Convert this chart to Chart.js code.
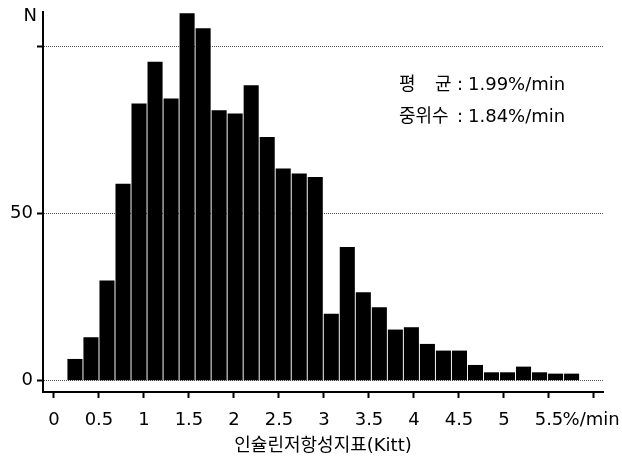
<!DOCTYPE html>
<html>
<head>
<meta charset="utf-8">
<script src="https://cdn.jsdelivr.net/npm/chart.js@4"></script>
<style>
  html, body { margin: 0; padding: 0; background: #fff; }
  #wrap { width: 622px; height: 459px; }
</style>
</head>
<body>
<div id="wrap"><canvas id="myChart" width="622" height="459"></canvas></div>
<script>
// histogram bins (centre of each bar, %/min) and counts
const binCenters = [0.233, 0.411, 0.589, 0.767, 0.945, 1.123, 1.301, 1.479, 1.657, 1.835,
  2.013, 2.191, 2.369, 2.547, 2.725, 2.903, 3.081, 3.259, 3.437, 3.615,
  3.793, 3.971, 4.149, 4.327, 4.505, 4.683, 4.861, 5.039, 5.217, 5.395, 5.573, 5.751];
const counts = [6.5, 13, 30, 59, 83, 95.5, 84.5, 110, 105.5, 81,
  80, 88.5, 73, 63.5, 62, 61, 20, 40, 26.5, 22,
  15.3, 16, 11, 9, 9, 4.7, 2.5, 2.5, 4.2, 2.5, 2.1, 2.1];
const xTicks = [0, 0.5, 1, 1.5, 2, 2.5, 3, 3.5, 4, 4.5, 5, 5.5, 6];
const yTicks = [0, 50, 100];
const xUnitLabel = '%/min ';
const xTitle = '인슐린저항성지표(Kitt)';
const yTitle = 'N';
const statLabels = ['평', '균'];
const stats = [['평 균', '1.99%/min'], ['중위수', '1.84%/min']];

const FONT = 'DejaVu Sans, "Noto Sans CJK KR", sans-serif';

const textPlugin = {
  id: 'texts',
  afterDraw(chart) {
    const ctx = chart.ctx;
    const area = chart.chartArea;
    ctx.save();
    ctx.fillStyle = '#000';
    ctx.font = '18px ' + FONT;
    ctx.textBaseline = 'alphabetic';
    // "N" at the top of the y axis
    ctx.textAlign = 'right';
    ctx.fillText(yTitle, area.left - 6, area.top + 9);
    // mean / median box
    ctx.textAlign = 'left';
    ctx.fillText(statLabels[0], 399, 90);
    ctx.fillText(statLabels[1], 435, 90);
    ctx.fillText(':', 457, 90);
    ctx.fillText(stats[0][1], 468, 90);
    ctx.fillText(stats[1][0], 399, 122);
    ctx.fillText(':', 457, 122);
    ctx.fillText(stats[1][1], 468, 122);
    ctx.restore();
  }
};

const ctx = document.getElementById('myChart').getContext('2d');
const myChart = new Chart(ctx, {
  type: 'bar',
  data: {
    datasets: [{
      data: binCenters.map((x, i) => ({x: x, y: counts[i]})),
      backgroundColor: '#000',
      borderWidth: 0,
      barPercentage: 0.94,
      categoryPercentage: 1
    }]
  },
  options: {
    responsive: false,
    animation: false,
    layout: { padding: { left: 10, top: 12, right: 0, bottom: 0 } },
    plugins: { legend: { display: false }, tooltip: { enabled: false } },
    scales: {
      x: {
        type: 'linear',
        offset: false,
        min: -0.122,
        max: 6.1,
        afterBuildTicks: (scale) => { scale.ticks = xTicks.map(v => ({value: v})); },
        afterFit: (scale) => { scale.height = 67; scale.paddingRight = 19; scale.paddingLeft = 0; },
        ticks: {
          autoSkip: false,
          maxRotation: 0,
          padding: 12,
          color: '#000',
          font: { family: FONT, size: 18, lineHeight: 1.1 },
          callback: (v) => v === 6 ? xUnitLabel : String(v)
        },
        grid: { offset: false, drawOnChartArea: false, tickLength: 6, tickWidth: 2, tickColor: '#000' },
        border: { color: '#000', width: 2 },
        title: {
          display: true,
          text: xTitle,
          color: '#000',
          font: { family: FONT, size: 18 },
          padding: { top: 0, bottom: 2 }
        }
      },
      y: {
        min: -3.4,
        max: 110.4,
        afterBuildTicks: (scale) => { scale.ticks = yTicks.map(v => ({value: v})); },
        afterFit: (scale) => { scale.width = 33; scale.paddingTop = 0; scale.paddingBottom = 0; },
        ticks: {
          padding: 4,
          color: '#000',
          font: { family: FONT, size: 18 },
          callback: (v) => v === 100 ? '' : String(v)
        },
        grid: { color: '#555', lineWidth: 1, tickLength: 6, tickWidth: 2, tickColor: '#000' },
        border: { color: '#000', width: 2, dash: [1, 1] }
      }
    }
  },
  plugins: [textPlugin]
});
</script>
</body>
</html>
